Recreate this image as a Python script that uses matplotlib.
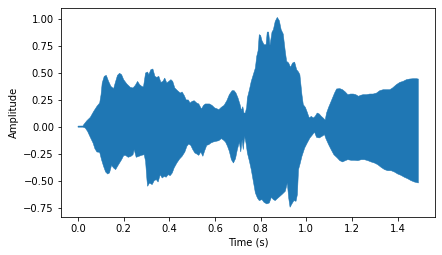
import numpy as np
import matplotlib
matplotlib.use("Agg")
import matplotlib.pyplot as plt

# upper envelope of the waveform (time in s, amplitude)
t_upper = [0.0, 0.022, 0.025, 0.039, 0.054, 0.069, 0.083, 0.095, 0.101, 0.106,
           0.115, 0.124, 0.134, 0.144, 0.156, 0.165, 0.173, 0.182, 0.191, 0.200,
           0.214, 0.229, 0.241, 0.251, 0.261, 0.270, 0.281, 0.287, 0.296, 0.305,
           0.310, 0.319, 0.328, 0.337, 0.345, 0.354, 0.363, 0.372, 0.380, 0.389,
           0.398, 0.407, 0.415, 0.424, 0.436, 0.448, 0.456, 0.465, 0.474, 0.483,
           0.491, 0.500, 0.509, 0.520, 0.529, 0.541, 0.550, 0.558, 0.576, 0.587,
           0.599, 0.608, 0.617, 0.628, 0.640, 0.652, 0.663, 0.675, 0.684, 0.692,
           0.701, 0.710, 0.716, 0.722, 0.727, 0.733, 0.739, 0.742, 0.751, 0.759,
           0.768, 0.777, 0.783, 0.789, 0.794, 0.800, 0.806, 0.815, 0.824, 0.829,
           0.835, 0.841, 0.850, 0.856, 0.864, 0.873, 0.882, 0.890, 0.899, 0.908,
           0.914, 0.923, 0.931, 0.940, 0.949, 0.958, 0.966, 0.972, 0.981, 0.987,
           0.996, 1.004, 1.013, 1.022, 1.031, 1.039, 1.048, 1.057, 1.066, 1.074,
           1.083, 1.089, 1.098, 1.106, 1.115, 1.124, 1.133, 1.147, 1.159, 1.171,
           1.182, 1.194, 1.206, 1.217, 1.229, 1.238, 1.249, 1.264, 1.278, 1.293,
           1.308, 1.322, 1.337, 1.351, 1.366, 1.378, 1.395, 1.410, 1.424, 1.439,
           1.453, 1.468, 1.483, 1.491]
amp_upper = [0.005, 0.006, 0.018, 0.055, 0.086, 0.142, 0.188, 0.219, 0.296, 0.404,
             0.466, 0.475, 0.419, 0.373, 0.352, 0.419, 0.475, 0.494, 0.481, 0.435,
             0.395, 0.364, 0.358, 0.382, 0.419, 0.389, 0.370, 0.370, 0.497, 0.506,
             0.481, 0.527, 0.534, 0.466, 0.456, 0.466, 0.410, 0.419, 0.450, 0.404,
             0.419, 0.435, 0.419, 0.358, 0.333, 0.311, 0.321, 0.290, 0.247, 0.247,
             0.219, 0.234, 0.240, 0.219, 0.210, 0.163, 0.197, 0.210, 0.210, 0.197,
             0.173, 0.166, 0.157, 0.179, 0.197, 0.240, 0.296, 0.333, 0.333, 0.311,
             0.265, 0.203, 0.148, 0.185, 0.126, 0.126, 0.179, 0.265, 0.342, 0.419,
             0.481, 0.543, 0.651, 0.703, 0.852, 0.845, 0.796, 0.759, 0.759, 0.876,
             0.876, 0.753, 0.876, 0.898, 0.975, 1.012, 0.981, 0.898, 0.858, 0.697,
             0.605, 0.589, 0.549, 0.589, 0.598, 0.527, 0.506, 0.481, 0.296, 0.203,
             0.179, 0.135, 0.080, 0.095, 0.080, 0.095, 0.126, 0.117, 0.095, 0.080,
             0.061, 0.126, 0.179, 0.219, 0.265, 0.311, 0.349, 0.352, 0.342, 0.321,
             0.296, 0.302, 0.302, 0.296, 0.281, 0.290, 0.296, 0.296, 0.302, 0.302,
             0.311, 0.333, 0.342, 0.342, 0.342, 0.358, 0.389, 0.410, 0.419, 0.435,
             0.441, 0.444, 0.444, 0.441]

# lower envelope of the waveform
t_lower = [0.0, 0.022, 0.032, 0.042, 0.054, 0.066, 0.074, 0.083, 0.095, 0.103,
           0.112, 0.121, 0.130, 0.138, 0.147, 0.156, 0.165, 0.173, 0.182, 0.191,
           0.200, 0.208, 0.220, 0.232, 0.241, 0.246, 0.255, 0.267, 0.278, 0.290,
           0.296, 0.302, 0.305, 0.313, 0.325, 0.334, 0.343, 0.351, 0.360, 0.369,
           0.378, 0.386, 0.395, 0.404, 0.413, 0.421, 0.433, 0.445, 0.456, 0.468,
           0.477, 0.485, 0.494, 0.503, 0.512, 0.520, 0.529, 0.538, 0.547, 0.555,
           0.564, 0.573, 0.582, 0.593, 0.605, 0.617, 0.628, 0.637, 0.646, 0.655,
           0.663, 0.672, 0.681, 0.690, 0.698, 0.707, 0.713, 0.719, 0.724, 0.730,
           0.736, 0.742, 0.751, 0.759, 0.768, 0.777, 0.786, 0.794, 0.806, 0.815,
           0.827, 0.838, 0.847, 0.856, 0.864, 0.873, 0.885, 0.896, 0.908, 0.917,
           0.923, 0.929, 0.937, 0.946, 0.955, 0.961, 0.966, 0.972, 0.981, 0.993,
           1.004, 1.016, 1.028, 1.036, 1.045, 1.057, 1.069, 1.080, 1.086, 1.098,
           1.109, 1.121, 1.136, 1.147, 1.159, 1.171, 1.182, 1.197, 1.211, 1.226,
           1.241, 1.255, 1.270, 1.284, 1.299, 1.313, 1.328, 1.343, 1.357, 1.372,
           1.386, 1.401, 1.415, 1.430, 1.444, 1.459, 1.474, 1.491]
amp_lower = [-0.005, -0.005, -0.013, -0.044, -0.099, -0.152, -0.204, -0.235, -0.238, -0.306,
             -0.368, -0.420, -0.439, -0.429, -0.358, -0.383, -0.398, -0.368, -0.337, -0.306,
             -0.269, -0.266, -0.284, -0.275, -0.260, -0.213, -0.284, -0.275, -0.266, -0.260,
             -0.321, -0.491, -0.553, -0.522, -0.537, -0.500, -0.491, -0.513, -0.445, -0.476,
             -0.460, -0.469, -0.445, -0.454, -0.429, -0.383, -0.337, -0.300, -0.275, -0.235,
             -0.182, -0.161, -0.173, -0.213, -0.244, -0.253, -0.266, -0.235, -0.275, -0.223,
             -0.173, -0.167, -0.152, -0.142, -0.136, -0.130, -0.111, -0.124, -0.142, -0.182,
             -0.229, -0.306, -0.337, -0.297, -0.213, -0.142, -0.235, -0.121, -0.213, -0.090,
             -0.152, -0.244, -0.321, -0.398, -0.506, -0.614, -0.661, -0.685, -0.676, -0.701,
             -0.716, -0.707, -0.655, -0.676, -0.685, -0.667, -0.645, -0.624, -0.599, -0.522,
             -0.661, -0.747, -0.716, -0.685, -0.692, -0.630, -0.398, -0.352, -0.275, -0.198,
             -0.152, -0.105, -0.074, -0.050, -0.099, -0.105, -0.090, -0.074, -0.111, -0.167,
             -0.213, -0.260, -0.290, -0.315, -0.327, -0.315, -0.306, -0.312, -0.312, -0.315,
             -0.306, -0.306, -0.315, -0.327, -0.337, -0.352, -0.377, -0.398, -0.408, -0.408,
             -0.420, -0.439, -0.451, -0.469, -0.482, -0.500, -0.513, -0.522]

fig = plt.figure(figsize=(442 / 72, 255 / 72), dpi=72)
ax = fig.add_axes([0.138, 0.150, 0.847, 0.819])

xs = np.concatenate([t_upper, t_lower[::-1]])
ys = np.concatenate([amp_upper, amp_lower[::-1]])
ax.fill(xs, ys, color='#1f77b4', linewidth=0.5)

ax.set_xlabel("Time (s)")
ax.set_ylabel("Amplitude")

fig.savefig("out.png", dpi=72)
